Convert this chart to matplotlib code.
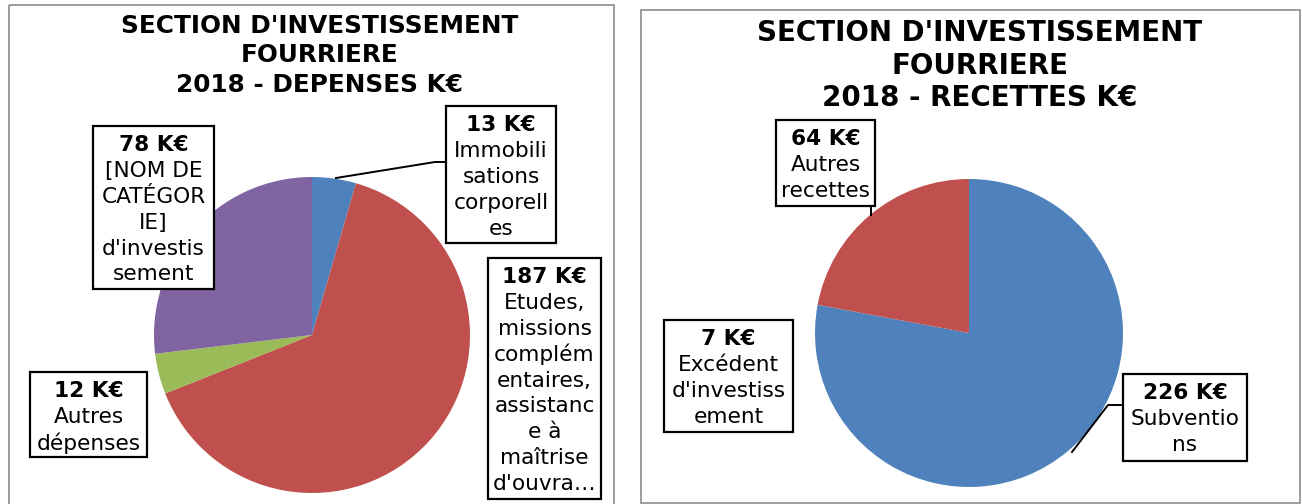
import matplotlib
matplotlib.use('Agg')
import matplotlib.pyplot as plt
from matplotlib.patches import Rectangle

# DEPENSES
dep_values = [13, 187, 12, 78]
dep_labels = ["Immobili\nsations\ncorporell\nes",
              "Etudes,\nmissions\ncomplém\nentaires,\nassistanc\ne à\nmaîtrise\nd'ouvra…",
              "Autres\ndépenses",
              "[NOM DE\nCATÉGOR\nIE]\nd'investis\nsement"]
dep_colors = ['#4F81BD', '#C0504D', '#9BBB59', '#8064A2']
dep_title = "SECTION D'INVESTISSEMENT\nFOURRIERE\n2018 - DEPENSES K€"

# RECETTES (the 7 K€ slice is not drawn in the source chart)
rec_values = [226, 7, 64]
rec_drawn = [226, 0, 64]
rec_labels = ["Subventio\nns", "Excédent\nd'investiss\nement", "Autres\nrecettes"]
rec_colors = ['#4F81BD', '#9BBB59', '#C0504D']
rec_title = "SECTION D'INVESTISSEMENT\nFOURRIERE\n2018 - RECETTES K€"

W, H = 1302, 504
fig = plt.figure(figsize=(W / 100, H / 100), dpi=100)
plt.rcParams['font.family'] = 'DejaVu Sans'


def pie_axes(cx, cy, r):
    return fig.add_axes([(cx - r) / W, (H - cy - r) / H, 2 * r / W, 2 * r / H])


ax1 = pie_axes(312, 335, 158)
ax1.pie(dep_values, colors=dep_colors, startangle=90, counterclock=False,
        wedgeprops=dict(linewidth=0))
ax1.set_xlim(-1, 1)
ax1.set_ylim(-1, 1)

ax2 = pie_axes(969, 333, 154)
ax2.pie(rec_drawn, colors=rec_colors, startangle=90, counterclock=False,
        wedgeprops=dict(linewidth=0))
ax2.set_xlim(-1, 1)
ax2.set_ylim(-1, 1)

# overlay in pixel coordinates for frames, titles and label boxes
ov = fig.add_axes([0, 0, 1, 1], zorder=5)
ov.set_xlim(0, W)
ov.set_ylim(H, 0)
ov.axis('off')
ov.patch.set_alpha(0)

ov.add_patch(Rectangle((9, 5), 605, 505, fill=False, edgecolor='#8c8c8c', lw=1.2))
ov.add_patch(Rectangle((641, 10), 659, 493, fill=False, edgecolor='#8c8c8c', lw=1.2))

for i, line in enumerate(dep_title.split('\n')):
    ov.text(320, 26 + i * 29.5, line, ha='center', va='center',
            fontsize=17.8, fontweight='bold')
for i, line in enumerate(rec_title.split('\n')):
    ov.text(980, 33 + i * 32.5, line, ha='center', va='center',
            fontsize=20, fontweight='bold')


def label_box(x0, y0, x1, y1, value, label):
    ov.add_patch(Rectangle((x0, y0), x1 - x0, y1 - y0, facecolor='white',
                           edgecolor='black', lw=1.6))
    cx = (x0 + x1) / 2
    lines = [f"{value} K€"] + label.split('\n')
    for i, line in enumerate(lines):
        ov.text(cx, y0 + 19 + i * 25.9, line, ha='center', va='center',
                fontsize=15.6, fontweight='bold' if i == 0 else 'normal')


# leader lines
ov.plot([336, 435, 446], [178, 162, 162], color='black', lw=1.4)
ov.plot([871, 871], [215, 206], color='black', lw=1.4)
ov.plot([1072, 1108, 1123], [452, 405, 405], color='black', lw=1.4)

label_box(446, 106, 556, 243, dep_values[0], dep_labels[0])
label_box(488, 258, 601, 499, dep_values[1], dep_labels[1])
label_box(30, 372, 147, 457, dep_values[2], dep_labels[2])
label_box(93, 126, 214, 289, dep_values[3], dep_labels[3])

label_box(1123, 374, 1247, 461, rec_values[0], rec_labels[0])
label_box(664, 320, 793, 432, rec_values[1], rec_labels[1])
label_box(776, 120, 875, 206, rec_values[2], rec_labels[2])

fig.savefig('out.png', dpi=100, facecolor='white')
